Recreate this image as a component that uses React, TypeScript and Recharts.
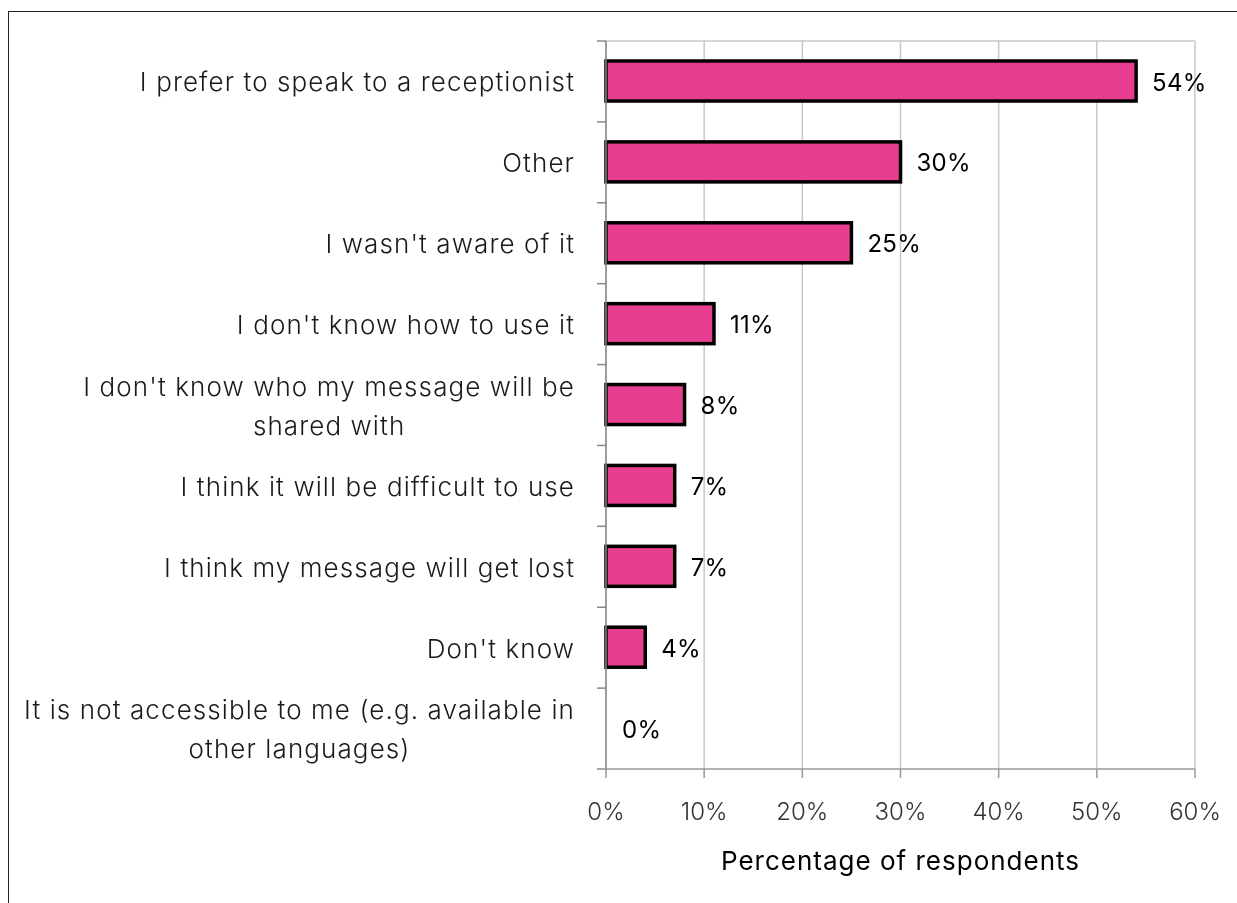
import { BarChart, Bar, XAxis, YAxis, CartesianGrid } from 'recharts';

const categories = [
    "I prefer to speak to a receptionist",
    "Other",
    "I wasn't aware of it",
    "I don't know how to use it",
    "I don't know who my message will be\nshared with",
    "I think it will be difficult to use",
    "I think my message will get lost",
    "Don't know",
    "It is not accessible to me (e.g. available in\nother languages)",
];
const percentages = [54, 30, 25, 11, 8, 7, 7, 4, 0];
const xTicks = [0, 10, 20, 30, 40, 50, 60];

const data = categories.map((name, i) => ({ name, value: percentages[i] }));

const W = 1228;
const H = 891;
const M = { top: 29, right: 42, left: 0, bottom: 0 };
const Y_AXIS_W = 597;
const X_AXIS_H = 134;
const PLOT_H = H - M.top - M.bottom - X_AXIS_H;
const BAND = PLOT_H / categories.length;
const FONT = "Inter, 'Open Sans', sans-serif";
const CAT_SIZE = 26;
const CAT_SPACING = 1.1;

let ctx: CanvasRenderingContext2D | null = null;
function textWidth(s: string) {
    if (!ctx) ctx = document.createElement('canvas').getContext('2d');
    if (!ctx) return s.length * CAT_SIZE * 0.5;
    ctx.font = `300 ${CAT_SIZE}px ${FONT}`;
    return ctx.measureText(s).width + s.length * CAT_SPACING;
}

// category labels: wrapped lines centred on each other, block right-aligned,
// tick marks sitting on the band edges
function CategoryTick(props: any) {
    const { y, payload, index } = props;
    const lines: string[] = String(payload.value).split('\n');
    const lh = 39;
    const axisX = M.left + Y_AXIS_W;
    const right = axisX - 31;
    const top = y - BAND / 2;
    const blockW = Math.max(...lines.map(textWidth));
    const multi = lines.length > 1;
    const tx = multi ? right - blockW / 2 : right;
    return (
        <g>
            <line x1={axisX - 9} x2={axisX} y1={top} y2={top} stroke="#888" strokeWidth={1.5} />
            {index === categories.length - 1 &&
                <line x1={axisX - 9} x2={axisX} y1={top + BAND} y2={top + BAND} stroke="#888" strokeWidth={1.5} />}
            <text x={tx} y={y - ((lines.length - 1) * lh) / 2} textAnchor={multi ? 'middle' : 'end'}
                dominantBaseline="central" fill="#1a1a1a" fontSize={CAT_SIZE} fontWeight={300}
                letterSpacing={CAT_SPACING} fontFamily={FONT}>
                {lines.map((l, i) => (
                    <tspan key={i} x={tx} dy={i === 0 ? 0 : lh}>{l}</tspan>
                ))}
            </text>
        </g>
    );
}

// outlined bar plus its value label (drawn even when the bar has no width)
function OutlinedBar(props: any) {
    const { x, y, width, height, value } = props;
    const v = Array.isArray(value) ? value[1] - value[0] : value;
    return (
        <g>
            {width > 0 &&
                <rect x={x} y={y} width={width} height={height} fill="#E83E8F" stroke="#000" strokeWidth={3.5} />}
            <text x={x + width + 16} y={y + height / 2 + 1} dominantBaseline="central" fill="#000"
                fontSize={24} letterSpacing={0.3} fontFamily={FONT}>{`${v}%`}</text>
        </g>
    );
}

export default function App() {
    return (
        <div>
            <div style={{ position: 'fixed', left: 8, top: 11, right: 0, bottom: 0,
                borderLeft: '1px solid #222', borderTop: '1px solid #222' }} />
            <div style={{ position: 'relative', marginTop: 4, marginLeft: 1, width: W, height: H }}>
                <BarChart width={W} height={H} data={data} layout="vertical" margin={M} barSize={40}>
                    <CartesianGrid vertical horizontal horizontalPoints={[M.top]} stroke="#c8c8c8" strokeWidth={1.5} />
                    <XAxis type="number" domain={[0, 60]} ticks={xTicks} height={X_AXIS_H}
                        tickFormatter={(v: number) => `${v}%`}
                        stroke="#999" strokeWidth={1.5} tickSize={9} tickMargin={25}
                        tick={{ fill: '#333', fontSize: 24, fontWeight: 300, fontFamily: FONT }}
                        label={{ value: 'Percentage of respondents', position: 'insideBottom', offset: 33,
                            fill: '#000', fontSize: 26, letterSpacing: 1, fontFamily: FONT }} />
                    <YAxis type="category" dataKey="name" width={Y_AXIS_W} stroke="#888" strokeWidth={1.5}
                        tickLine={false} interval={0} tick={<CategoryTick />} />
                    <Bar dataKey="value" shape={<OutlinedBar />} isAnimationActive={false} />
                </BarChart>
            </div>
        </div>
    );
}
